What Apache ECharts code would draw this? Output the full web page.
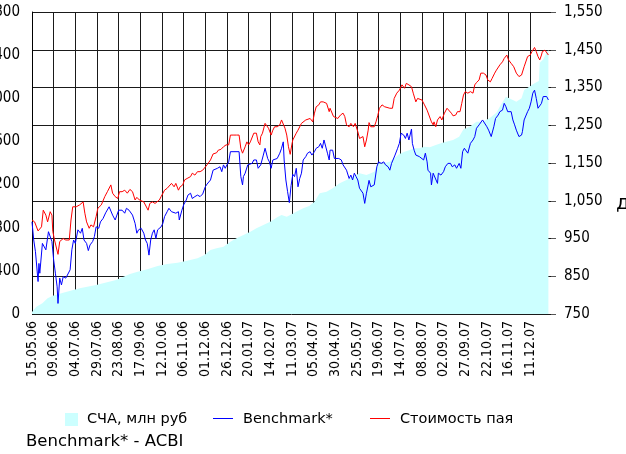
<!DOCTYPE html>
<html>
<head>
<meta charset="utf-8">
<script src="https://cdn.jsdelivr.net/npm/echarts@6/dist/echarts.min.js"></script>
<style>
  html, body { margin: 0; padding: 0; background: #fff; }
  #chart { width: 626px; height: 454px; }
</style>
</head>
<body>
<div id="chart"></div>
<script>
// x = days since 15.05.06, tick every 25 days
var dateLabels = ['15.05.06', '09.06.06', '04.07.06', '29.07.06', '23.08.06', '17.09.06',
  '12.10.06', '06.11.06', '01.12.06', '26.12.06', '20.01.07', '14.02.07', '11.03.07',
  '05.04.07', '30.04.07', '25.05.07', '19.06.07', '14.07.07', '08.08.07', '02.09.07',
  '27.09.07', '22.10.07', '16.11.07', '11.12.07']

// СЧА, млн руб (left axis)
var navDays = [0, 5, 12, 18, 24, 36, 55, 74, 97, 113, 122, 133, 145, 156, 168, 179, 191, 199,
  206, 213, 221, 229, 236, 244, 252, 259, 267, 275, 283, 288, 294, 302, 305, 313, 320, 326,
  332, 340, 347, 355, 363, 370, 378, 386, 391, 395, 399, 405, 413, 418, 424, 430, 436, 441,
  447, 453, 459, 466, 472, 478, 486, 493, 498, 505, 513, 520, 528, 536, 541, 547, 555, 559,
  565, 568, 574, 580, 585, 586, 590, 593, 596]
var navValues = [19, 68, 99, 146, 170, 197, 238, 269, 315, 371, 392, 414, 445, 464, 476, 494,
  516, 547, 593, 609, 624, 670, 702, 732, 763, 794, 825, 856, 897, 918, 902, 934, 949, 980,
  1001, 1041, 1119, 1134, 1165, 1212, 1242, 1273, 1305, 1289, 1305, 1320, 1397, 1397, 1412,
  1444, 1484, 1505, 1521, 1536, 1536, 1551, 1545, 1567, 1583, 1598, 1613, 1644, 1713, 1737,
  1783, 1783, 1815, 1866, 1938, 2015, 1984, 1968, 2000, 2077, 2108, 2139, 2160, 2330, 2360,
  2410, 2450]

// Benchmark* (right axis)
var benchDays = [0, 2, 4, 7, 8, 9, 12, 14, 16, 17, 19, 21, 23, 25, 27, 29, 30, 32, 34, 36, 39,
  41, 44, 46, 48, 50, 53, 56, 58, 60, 63, 65, 67, 70, 72, 74, 77, 79, 82, 85, 87, 89, 91, 93,
  96, 98, 100, 102, 104, 107, 109, 112, 114, 116, 119, 121, 123, 126, 128, 129, 131, 133, 135,
  137, 139, 141, 143, 145, 147, 149, 151, 153, 156, 158, 161, 163, 166, 169, 170, 173, 175,
  178, 180, 183, 185, 188, 191, 194, 197, 199, 200, 202, 206, 209, 211, 214, 217, 219, 221,
  223, 225, 227, 229, 239, 241, 243, 244, 246, 249, 251, 254, 256, 259, 261, 263, 264, 267,
  269, 272, 274, 276, 278, 280, 283, 286, 288, 290, 291, 293, 295, 297, 299, 301, 303, 305,
  307, 309, 311, 313, 314, 316, 318, 321, 323, 326, 328, 331, 333, 335, 337, 339, 341, 343,
  344, 347, 349, 351, 354, 357, 359, 361, 363, 366, 368, 370, 372, 374, 376, 378, 380, 382,
  384, 386, 388, 389, 391, 393, 395, 398, 400, 403, 406, 408, 411, 413, 415, 416, 419, 422,
  424, 426, 429, 431, 433, 435, 438, 439, 441, 443, 445, 447, 449, 452, 454, 456, 457, 460,
  461, 463, 465, 468, 469, 472, 475, 477, 480, 483, 485, 488, 490, 493, 495, 497, 499, 501,
  503, 506, 509, 511, 513, 516, 520, 522, 525, 527, 530, 533, 535, 538, 540, 543, 545, 547,
  549, 551, 553, 555, 557, 559, 562, 565, 566, 568, 570, 572, 574, 576, 578, 580, 582, 584,
  586, 588, 590, 592, 594, 596]
var benchValues = [994, 946, 915, 836, 884, 858, 937, 942, 920, 924, 968, 964, 942, 893, 858,
  822, 778, 845, 827, 849, 845, 849, 867, 920, 946, 937, 973, 964, 977, 946, 937, 918, 933,
  942, 955, 981, 977, 994, 1003, 1018, 1017, 1034, 1039, 1012, 999, 1012, 1025, 1028, 1025,
  1017, 1030, 1025, 1030, 1012, 990, 964, 973, 977, 981, 964, 946, 937, 906, 946, 964, 973,
  950, 973, 977, 981, 990, 1008, 1021, 1030, 1021, 1025, 1017, 1021, 999, 1025, 1039, 1052,
  1065, 1070, 1056, 1061, 1065, 1061, 1068, 1070, 1087, 1094, 1105, 1131, 1127, 1136, 1140,
  1127, 1145, 1136, 1145, 1153, 1180, 1180, 1114, 1092, 1114, 1123, 1145, 1140, 1149, 1158,
  1158, 1136, 1131, 1145, 1171, 1189, 1162, 1153, 1136, 1158, 1162, 1162, 1176, 1189, 1206,
  1158, 1105, 1074, 1045, 1090, 1120, 1114, 1136, 1087, 1109, 1123, 1158, 1162, 1167, 1176,
  1180, 1171, 1180, 1189, 1193, 1202, 1189, 1211, 1206, 1176, 1158, 1184, 1184, 1162, 1158,
  1162, 1158, 1145, 1149, 1131, 1109, 1118, 1105, 1123, 1114, 1105, 1083, 1087, 1070, 1043,
  1070, 1092, 1104, 1087, 1083, 1092, 1140, 1153, 1149, 1153, 1145, 1140, 1131, 1149, 1153,
  1171, 1189, 1202, 1229, 1224, 1215, 1229, 1211, 1240, 1202, 1184, 1171, 1176, 1167, 1171,
  1158, 1176, 1153, 1131, 1123, 1092, 1123, 1118, 1096, 1123, 1118, 1127, 1140, 1149, 1149,
  1140, 1145, 1136, 1149, 1136, 1180, 1189, 1193, 1176, 1202, 1211, 1220, 1242, 1251, 1264,
  1259, 1246, 1237, 1220, 1246, 1268, 1277, 1286, 1290, 1308, 1299, 1286, 1282, 1286, 1264,
  1251, 1237, 1220, 1224, 1233, 1264, 1259, 1286, 1295, 1312, 1335, 1343, 1321, 1295, 1290,
  1308, 1326, 1327, 1326, 1317]

// Стоимость пая (right axis)
var priceDays = [0, 3, 7, 11, 13, 16, 18, 21, 23, 24, 26, 28, 30, 32, 36, 39, 43, 45, 47, 51,
  55, 59, 61, 63, 66, 68, 71, 74, 76, 80, 84, 87, 91, 93, 96, 99, 101, 104, 107, 110, 113, 116,
  119, 121, 124, 126, 129, 131, 134, 136, 139, 142, 144, 147, 149, 153, 156, 158, 161, 164,
  166, 169, 171, 174, 176, 179, 183, 185, 188, 191, 194, 197, 199, 202, 204, 206, 209, 213,
  215, 218, 221, 224, 227, 229, 233, 236, 239, 241, 243, 246, 248, 250, 252, 256, 259, 261,
  263, 264, 266, 269, 271, 273, 276, 278, 280, 283, 286, 288, 290, 292, 294, 296, 298, 300,
  301, 303, 305, 307, 309, 311, 313, 316, 318, 321, 324, 326, 328, 331, 333, 336, 338, 340,
  343, 344, 346, 348, 350, 353, 356, 359, 361, 363, 366, 368, 371, 373, 376, 378, 380, 382,
  384, 386, 388, 389, 391, 393, 395, 397, 399, 401, 404, 407, 409, 413, 416, 418, 421, 424,
  427, 430, 432, 435, 438, 440, 443, 445, 447, 450, 453, 456, 458, 461, 463, 464, 466, 468,
  471, 473, 476, 479, 481, 484, 486, 489, 491, 494, 496, 498, 500, 503, 506, 509, 511, 513,
  516, 518, 521, 524, 526, 529, 531, 534, 536, 540, 543, 545, 548, 550, 553, 556, 559, 562,
  565, 566, 568, 570, 572, 575, 577, 580, 582, 584, 586, 588, 589, 592, 594, 596]
var priceValues = [999, 994, 970, 981, 1025, 1012, 994, 1021, 1012, 969, 946, 942, 908, 942,
  950, 946, 946, 999, 1034, 1034, 1039, 1047, 1017, 994, 977, 986, 981, 1008, 1030, 1039, 1061,
  1074, 1092, 1070, 1061, 1056, 1074, 1074, 1078, 1070, 1080, 1074, 1052, 1059, 1052, 1056,
  1047, 1043, 1025, 1043, 1047, 1043, 1039, 1052, 1061, 1078, 1083, 1087, 1096, 1087, 1096,
  1078, 1087, 1092, 1105, 1109, 1114, 1123, 1118, 1127, 1127, 1131, 1130, 1145, 1149, 1158,
  1174, 1177, 1184, 1186, 1193, 1198, 1198, 1224, 1224, 1224, 1224, 1189, 1176, 1193, 1206,
  1198, 1206, 1229, 1229, 1206, 1198, 1220, 1229, 1255, 1251, 1242, 1224, 1237, 1246, 1246,
  1251, 1264, 1268, 1242, 1224, 1193, 1173, 1200, 1211, 1206, 1229, 1237, 1237, 1255, 1259,
  1264, 1266, 1268, 1259, 1282, 1299, 1304, 1312, 1312, 1317, 1308, 1286, 1295, 1299, 1273,
  1273, 1268, 1277, 1282, 1273, 1251, 1246, 1255, 1246, 1255, 1233, 1215, 1215, 1220, 1193,
  1211, 1237, 1257, 1246, 1250, 1246, 1259, 1275, 1295, 1304, 1299, 1295, 1295, 1295, 1321,
  1335, 1343, 1357, 1348, 1361, 1357, 1352, 1335, 1312, 1321, 1317, 1317, 1304, 1290, 1286,
  1259, 1251, 1259, 1246, 1264, 1273, 1264, 1282, 1295, 1290, 1282, 1275, 1277, 1286, 1286,
  1308, 1330, 1339, 1335, 1339, 1335, 1357, 1363, 1370, 1388, 1388, 1383, 1370, 1365, 1374,
  1388, 1396, 1410, 1418, 1427, 1436, 1423, 1414, 1405, 1388, 1379, 1383, 1388, 1405, 1410,
  1432, 1436, 1445, 1456, 1445, 1432, 1423, 1436, 1445, 1449, 1445, 1436]

var axisFont = '"DejaVu Sans Condensed", "DejaVu Sans", sans-serif'
var textFont = '"DejaVu Sans", sans-serif'

function pairs (days, values) {
  return days.map(function (d, i) { return [d, values[i]] })
}
function withComma (v) {
  return v.toLocaleString('en-US')
}

var chart = echarts.init(document.getElementById('chart'), null, { renderer: 'canvas' })

// одна легенда на каждую серию, чтобы поставить значки как в оригинале
function legendItem (name, left, width, gap, icon) {
  return {
    data: [{ name: name, icon: icon }],
    left: left,
    top: 407,
    itemWidth: width,
    itemHeight: 13,
    textStyle: { fontSize: 14.5, fontFamily: textFont, color: '#000', padding: [0, 0, 0, gap] }
  }
}
// короткий отрезок цвета серии вместо значка легенды
function legendStroke (x, color) {
  return {
    type: 'line',
    shape: { x1: x, y1: 418.5, x2: x + 20, y2: 418.5 },
    style: { stroke: color, lineWidth: 1 }
  }
}

chart.setOption({
  animation: false,
  backgroundColor: '#fff',
  grid: { left: 32, right: 75, top: 12, bottom: 140, containLabel: false, outerBoundsMode: 'none' },
  legend: [
    legendItem('СЧА, млн руб', 60, 13, 4, 'rect'),
    legendItem('Benchmark*', 213, 20, 0, 'none'),
    legendItem('Стоимость пая', 370, 20, 0, 'none')
  ],
  graphic: [
    legendStroke(213, '#0000ff'),
    legendStroke(370, '#ff0000'),
    {
      type: 'text', left: 26, top: 433,
      style: { text: 'Benchmark* - ACBI', font: '16.5px ' + textFont, fill: '#000' }
    },
    {
      type: 'text', left: 616, top: 194,
      style: { text: 'д', font: '20px ' + textFont, fill: '#000' }
    }
  ],
  xAxis: {
    type: 'value',
    min: 0,
    max: 599,
    interval: 25,
    axisLine: { show: false },
    axisTick: { show: false },
    splitLine: { show: true, showMaxLine: false, lineStyle: { color: '#1a1a1a', width: 1 } },
    axisLabel: {
      rotate: 90,
      margin: 7,
      fontSize: 14,
      fontFamily: axisFont,
      color: '#000',
      showMaxLabel: false,
      formatter: function (v) { return dateLabels[v / 25] || '' }
    }
  },
  yAxis: [
    {
      type: 'value',
      position: 'left',
      min: 0,
      max: 2800,
      interval: 400,
      axisLine: { show: true, lineStyle: { color: '#000' } },
      axisTick: { show: false },
      splitLine: { show: false },
      axisLabel: { margin: 12, fontSize: 15, fontFamily: axisFont, color: '#000', formatter: withComma }
    },
    {
      type: 'value',
      position: 'right',
      min: 750,
      max: 1550,
      interval: 100,
      axisLine: { show: false },
      axisTick: { show: true, length: 5, lineStyle: { color: '#555' } },
      splitLine: { show: true, lineStyle: { color: '#1a1a1a', width: 1 } },
      axisLabel: { margin: 13, fontSize: 15, fontFamily: axisFont, color: '#000', formatter: withComma }
    }
  ],
  series: [
    {
      name: 'СЧА, млн руб',
      type: 'line',
      yAxisIndex: 0,
      data: pairs(navDays, navValues),
      symbol: 'none',
      itemStyle: { color: '#ccffff' },
      lineStyle: { width: 0, opacity: 0 },
      areaStyle: { color: '#ccffff', opacity: 1 }
    },
    {
      name: 'Benchmark*',
      type: 'line',
      yAxisIndex: 1,
      data: pairs(benchDays, benchValues),
      symbol: 'none',
      itemStyle: { color: '#0000ff' },
      lineStyle: { color: '#0000ff', width: 1 }
    },
    {
      name: 'Стоимость пая',
      type: 'line',
      yAxisIndex: 1,
      data: pairs(priceDays, priceValues),
      symbol: 'none',
      itemStyle: { color: '#ff0000' },
      lineStyle: { color: '#ff0000', width: 1 }
    }
  ]
})
</script>
</body>
</html>
